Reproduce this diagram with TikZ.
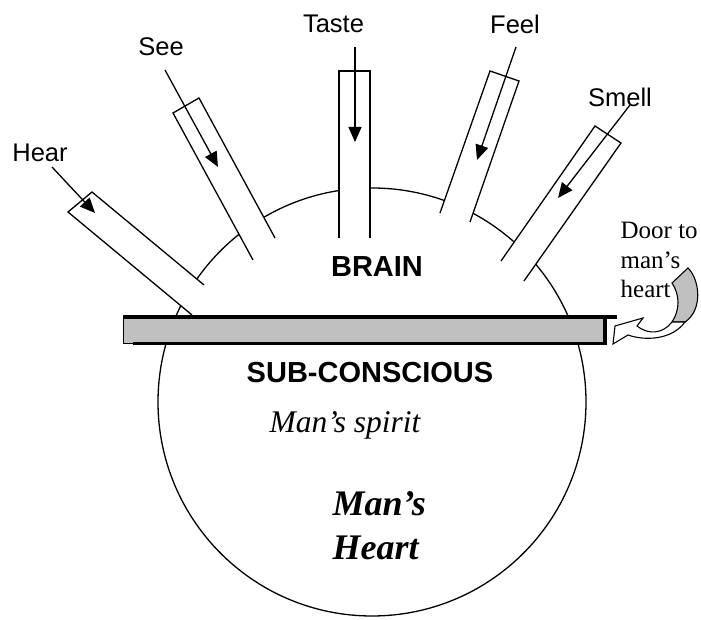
\documentclass[tikz,border=0pt]{standalone}
\usepackage{fontspec}
\setmainfont{Liberation Serif}
\setsansfont{Liberation Sans}
\usetikzlibrary{arrows.meta}
\definecolor{barfill}{HTML}{C0C0C0}
\begin{document}
\begin{tikzpicture}[x=1pt,y=1pt,line width=1.3pt,
  senselabel/.style={font=\sffamily\fontsize{25.5}{30}\selectfont,inner sep=0pt},
  sensearrow/.style={-{Triangle[length=15pt,width=13pt]},line width=1.3pt},
  tubeline/.style={line width=1.3pt,line join=miter},
  boldlabel/.style={font=\sffamily\bfseries\fontsize{29}{34}\selectfont,inner sep=0pt},
  serifnote/.style={font=\fontsize{25}{29.5}\selectfont,inner sep=0pt,align=left}]
\useasboundingbox (0,0) rectangle (701,620);

% brain / heart circle
\coordinate (C) at (372,218);
\draw (C) circle[radius=214];

% tubes (white fill hides the circle inside each tube)
\fill[white] (68,408) -- (92,428) -- (204,335) -- (192,305) -- cycle;
\draw[tubeline] (192,305) -- (68,408) -- (92,428) -- (204,335);
\fill[white] (173,507) -- (199,522) -- (275,382) -- (253,360) -- cycle;
\draw[tubeline] (253,360) -- (173,507) -- (199,522) -- (275,382);
\fill[white] (339,549) -- (370,549) -- (370,382) -- (339,382) -- cycle;
\draw[tubeline] (339,382) -- (339,549) -- (370,549) -- (370,382);
\fill[white] (490,549) -- (519,539) -- (470,398) -- (440,407) -- cycle;
\draw[tubeline] (440,407) -- (490,549) -- (519,539) -- (470,398);
\fill[white] (595,494) -- (621,477) -- (524,339) -- (501,359) -- cycle;
\draw[tubeline] (501,359) -- (595,494) -- (621,477) -- (524,339);

% sense labels
\node[senselabel] (hear) at (40,467) {Hear};
\node[senselabel] (see) at (161,573) {See};
\node[senselabel] (taste) at (333.5,596) {Taste};
\node[senselabel] (feel) at (515,596) {Feel};
\node[senselabel] (smell) at (620,523) {Smell};

% arrow ends
\coordinate (hearS) at (52,453);  \coordinate (hearT) at (95,407);
\coordinate (seeS) at (165,550);  \coordinate (seeT) at (218,453);
\coordinate (tasteS) at (355,573); \coordinate (tasteT) at (355,478);
\coordinate (feelS) at (516,573); \coordinate (feelT) at (477,460);
\coordinate (smellS) at (630,515); \coordinate (smellT) at (558,422);
\draw[sensearrow] (hearS) -- (hearT);
\draw[sensearrow] (seeS) -- (seeT);
\draw[sensearrow] (tasteS) -- (tasteT);
\draw[sensearrow] (feelS) -- (feelT);
\draw[sensearrow] (smellS) -- (smellT);

% the bar between brain and sub-conscious
\fill[barfill] (123,277) rectangle (604,302);
\draw[line width=0.9pt] (123,277) rectangle (604,302);
\fill[black] (122.5,301) rectangle (617,305);
\fill[black] (133,274.5) rectangle (606.5,278);
\fill[black] (603,274.5) rectangle (606.5,302);

% door arrow
\fill[barfill,draw=black,line width=1.1pt]
  (672,337) -- (688,352) .. controls (700,340) and (703,310) .. (685,298)
  -- (672,298) .. controls (680,310) and (680,325) .. (672,337) -- cycle;
\filldraw[fill=white,draw=black,line width=1.1pt,line join=miter]
  (672,298) .. controls (663,286) and (648,285) .. (637,294)
  -- (643,302) -- (615,294) -- (613,276) -- (628,285)
  .. controls (645,279) and (672,280) .. (685,298) -- cycle;

% texts
\node[serifnote,anchor=base west] (door) at (620,322) {Door to\\man’s\\heart};
\node[boldlabel] (brain) at (377,353) {BRAIN};
\node[boldlabel] (subc) at (370,247) {SUB-CONSCIOUS};
\node[font=\itshape\fontsize{31.5}{36}\selectfont,inner sep=0pt,anchor=base west] (spirit) at (269,187) {Man’s spirit};
\node[font=\bfseries\itshape\fontsize{36}{44}\selectfont,inner sep=0pt,align=left,anchor=base west] (heart) at (332,60) {Man’s\\Heart};
\end{tikzpicture}
\end{document}
